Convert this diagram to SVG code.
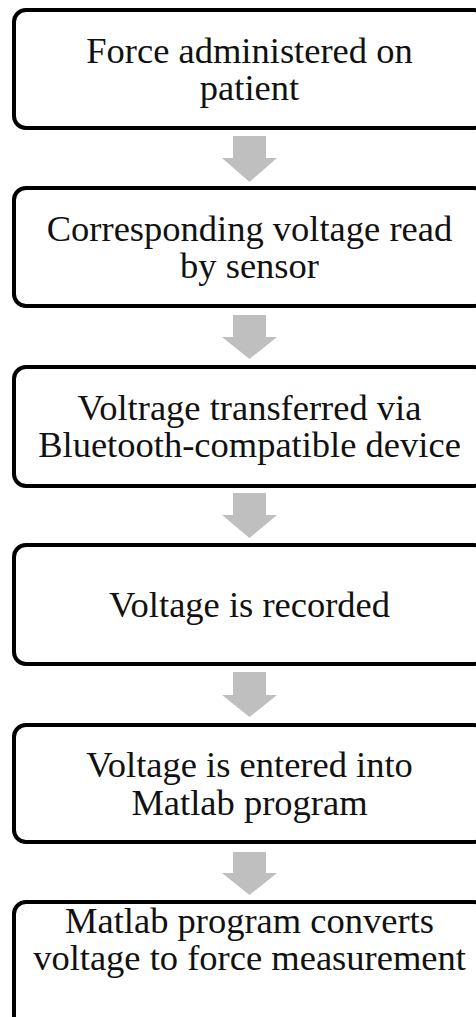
<svg xmlns="http://www.w3.org/2000/svg" width="476" height="1017" viewBox="0 0 476 1017">
<style>
.box{fill:#fff;stroke:#000;stroke-width:4}
.t{font-family:"Liberation Serif","Times New Roman",serif;font-size:36.5px;fill:#111;text-anchor:middle}
.arr{fill:#bfbfbf}
</style>
<rect width="476" height="1017" fill="#fff"/>
<g id="connectors">
<path class="arr" d="M233,136H266V158H277L249.5,182L222,158H233Z"/>
<path class="arr" d="M233,315H266V337H277L249.5,359L222,337H233Z"/>
<path class="arr" d="M233,493H266V515H277L249.5,538L222,515H233Z"/>
<path class="arr" d="M233,672H266V695H277L249.5,717L222,695H233Z"/>
<path class="arr" d="M233,852H266V873H277L249.5,895L222,873H233Z"/>
</g>
<g id="n1"><rect class="box" x="14" y="10" width="472" height="118" rx="12"/>
<text class="t" x="249.5" y="63">Force administered on</text><text class="t" x="249.5" y="100">patient</text></g>
<g id="n2"><rect class="box" x="14" y="188" width="472" height="118" rx="12"/>
<text class="t" x="249.5" y="241">Corresponding voltage read</text><text class="t" x="249.5" y="278">by sensor</text></g>
<g id="n3"><rect class="box" x="14" y="367" width="472" height="119" rx="12"/>
<text class="t" x="249.5" y="420">Voltrage transferred via</text><text class="t" x="249.5" y="457">Bluetooth-compatible device</text></g>
<g id="n4"><rect class="box" x="14" y="545" width="472" height="119" rx="12"/>
<text class="t" x="249.5" y="617">Voltage is recorded</text></g>
<g id="n5"><rect class="box" x="14" y="725" width="472" height="117" rx="12"/>
<text class="t" x="249.5" y="777">Voltage is entered into</text><text class="t" x="249.5" y="815">Matlab program</text></g>
<g id="n6"><rect class="box" x="14" y="902" width="472" height="130" rx="12"/>
<text class="t" x="249.5" y="933">Matlab program converts</text><text class="t" x="249.5" y="970">voltage to force measurement</text></g>
</svg>
